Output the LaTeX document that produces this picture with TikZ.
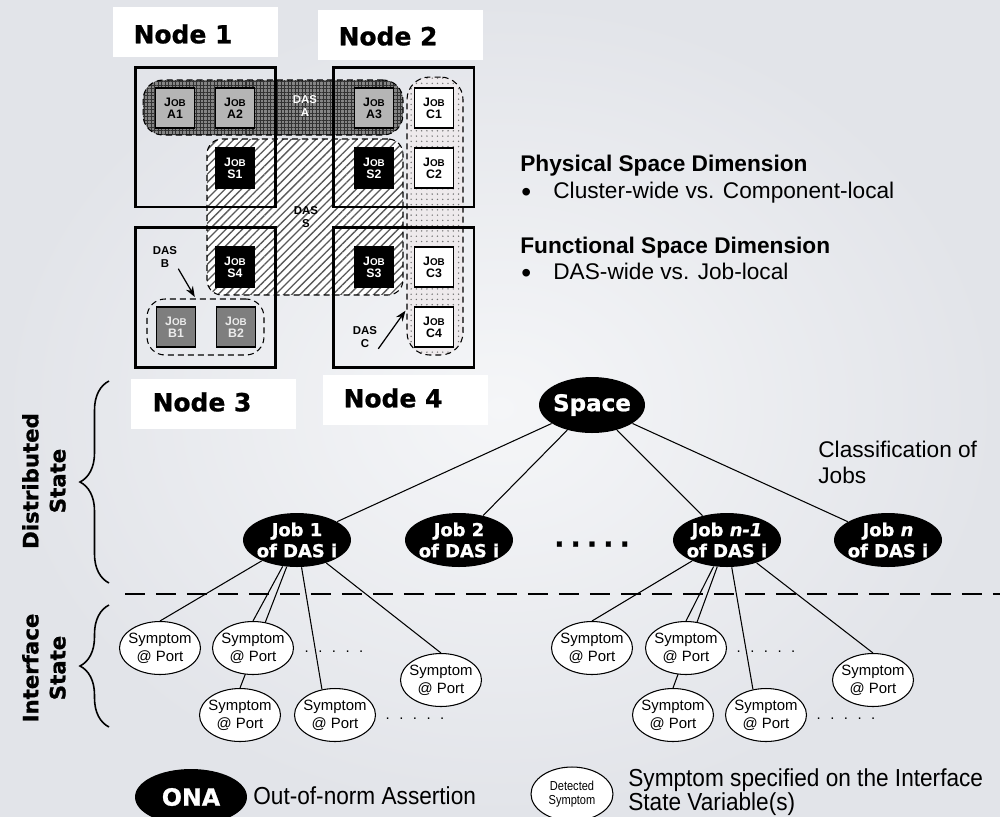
\documentclass[tikz,border=0pt]{standalone}
\usepackage{fontspec}
\setmainfont{Liberation Sans}
\newfontfamily\heavyfont{DejaVu Sans}[BoldFeatures={FakeBold=0.9}, BoldItalicFeatures={FakeBold=0.9}]
\newfontfamily\narrowfont{Liberation Sans}[FakeStretch=0.92]
\newfontfamily\narrowerfont{Liberation Sans}[FakeStretch=0.85]
\usetikzlibrary{shapes.geometric, arrows.meta, patterns.meta, decorations.pathreplacing}

\definecolor{bgouter}{HTML}{E2E4E9}
\definecolor{bginner}{HTML}{F5F6F8}
\definecolor{jobgray}{HTML}{B5B5B5}
\definecolor{jobdark}{HTML}{7E7E7E}
\definecolor{dasAfill}{HTML}{858585}
\definecolor{dasAink}{HTML}{333333}
\definecolor{dasCfill}{HTML}{EEEAEC}

\pgfdeclarelayer{back}
\pgfdeclarelayer{edges}
\pgfsetlayers{back,edges,main}

% "Job" with small capitals over the job identifier
\newcommand\jobtag[1]{J{\fontsize{5.6}{6}\selectfont OB}\\#1}
% five dots with a given gap
\newcommand\dotrow[1]{.\hspace{#1}.\hspace{#1}.\hspace{#1}.\hspace{#1}.}

\tikzset{
  labelbox/.style={fill=white, minimum width=3.3cm, minimum height=1cm, inner sep=0pt},
  nodelbl/.style={inner sep=0pt, font=\heavyfont\bfseries\fontsize{14.2}{16}\selectfont},
  nodesq/.style={draw=black, line width=1.7pt, minimum width=2.82cm, minimum height=2.8cm, inner sep=0pt},
  dasregion/.style={draw=black, line width=0.6pt, dash pattern=on 3.4pt off 2.3pt, inner sep=0pt},
  daslbl/.style={inner sep=0.5pt, align=center, font=\bfseries\fontsize{6.5}{7.4}\selectfont},
  jobbox/.style={draw=black, line width=0.6pt, minimum width=0.78cm, minimum height=0.8cm,
                 inner sep=0pt, align=center, font=\bfseries\fontsize{7}{6.8}\selectfont},
  jobA/.style={jobbox, fill=jobgray},
  jobS/.style={jobbox, fill=black, text=white},
  jobB/.style={jobbox, fill=jobdark, text=black!8},
  jobC/.style={jobbox, fill=white},
  pointer/.style={line width=0.7pt, -{Stealth[length=6pt, width=4.5pt]}, shorten >=1pt},
  blackell/.style={ellipse, fill=black, text=white, inner sep=0pt, align=center},
  jobell/.style={blackell, inner xsep=-2pt, minimum width=2.16cm, minimum height=1.08cm,
                 font=\heavyfont\bfseries\fontsize{10.2}{12}\selectfont},
  symp/.style={ellipse, draw=black, fill=white, line width=0.6pt, minimum width=1.62cm,
               minimum height=1.06cm, inner xsep=-3pt, inner ysep=0pt, align=center,
               font=\fontsize{8.5}{10.2}\selectfont},
  edge/.style={line width=0.6pt},
  sepline/.style={line width=0.6pt, dash pattern=on 0.4cm off 0.22cm},
  bracket/.style={line width=0.9pt, decorate, decoration={brace, amplitude=0.58cm}},
  sidelbl/.style={rotate=90, align=center, inner sep=0pt, font=\heavyfont\bfseries\fontsize{12.1}{15.4}\selectfont},
  bodytxt/.style={anchor=base west, inner sep=0pt, font=\fontsize{12.9}{15}\selectfont},
  headtxt/.style={bodytxt, font=\bfseries\fontsize{12.9}{15}\selectfont},
  bullettxt/.style={anchor=base west, inner sep=0pt, font=\fontsize{16}{16}\selectfont},
  smalldots/.style={inner sep=0pt, font=\fontsize{8.5}{9}\selectfont},
  legendtxt/.style={anchor=base west, inner sep=0pt, font=\narrowfont\fontsize{14}{16}\selectfont},
}

\begin{document}
\begin{tikzpicture}[x=0.02cm, y=-0.02cm]
\useasboundingbox (0,0) rectangle (1000,816);
\begin{pgfonlayer}{back}
  \shade[inner color=bginner, outer color=bgouter] (0,0) rectangle (1000,816);
\end{pgfonlayer}

% ---------- cluster with four nodes ----------
\node[labelbox] (n1box) at (195.5,32) {};
\node[nodelbl] (n1lbl) at (183,34) {Node 1};
\node[labelbox] (n2box) at (400.5,34.5) {};
\node[nodelbl] (n2lbl) at (388,36) {Node 2};
\node[labelbox] (n3box) at (213.5,403.5) {};
\node[nodelbl] (n3lbl) at (202,402) {Node 3};
\node[labelbox] (n4box) at (405.5,400) {};
\node[nodelbl] (n4lbl) at (393,398) {Node 4};

% DAS regions
\node[dasregion, minimum width=3.92cm, minimum height=3.12cm, rounded corners=0.3cm,
      preaction={fill=white}, pattern={Lines[angle=45, distance=3.3pt, line width=0.75pt]},
      pattern color=black!65] (dasS) at (305,217) {};
\node[dasregion, minimum width=5.2cm, minimum height=1.1cm, rounded corners=0.4cm,
      preaction={fill=dasAfill}, pattern={Hatch[angle=0, distance=2pt, line width=0.6pt]},
      pattern color=dasAink] (dasA) at (273,107.5) {};
\node[dasregion, minimum width=1.12cm, minimum height=5.56cm, rounded corners=0.45cm,
      preaction={fill=dasCfill}, pattern={Dots[distance=3pt, radius=0.45pt]},
      pattern color=black!55] (dasC) at (435,216) {};
\node[dasregion, minimum width=2.34cm, minimum height=1.12cm, rounded corners=0.36cm] (dasB) at (205.5,327) {};

% node frames
\node[nodesq] (sq1) at (205.5,137) {};
\node[nodesq] (sq2) at (403.5,137) {};
\node[nodesq] (sq3) at (205.5,297.5) {};
\node[nodesq] (sq4) at (403.5,297.5) {};

% jobs
\node[jobA] (jA1) at (175,108) {\jobtag{A1}};
\node[jobA] (jA2) at (235,108) {\jobtag{A2}};
\node[jobA] (jA3) at (374,108) {\jobtag{A3}};
\node[jobC] (jC1) at (434,108) {\jobtag{C1}};
\node[jobS] (jS1) at (235,168) {\jobtag{S1}};
\node[jobS] (jS2) at (374,168) {\jobtag{S2}};
\node[jobC] (jC2) at (434,168) {\jobtag{C2}};
\node[jobS] (jS4) at (235,267) {\jobtag{S4}};
\node[jobS] (jS3) at (374,267) {\jobtag{S3}};
\node[jobC] (jC3) at (434,267) {\jobtag{C3}};
\node[jobB] (jB1) at (176,327) {\jobtag{B1}};
\node[jobB] (jB2) at (236,327) {\jobtag{B2}};
\node[jobC] (jC4) at (434,327) {\jobtag{C4}};

% DAS labels
\node[daslbl, text=white] (dasAlbl) at (305,106) {DAS\\A};
\node[daslbl] (dasSlbl) at (306,217) {DAS\\S};
\node[daslbl] (dasBlbl) at (165,257) {DAS\\B};
\node[daslbl] (dasClbl) at (365,337) {DAS\\C};
\draw[pointer] (dasBlbl.south east) -- (dasB.109);
\draw[pointer] (dasClbl.south east) -- (dasC.253);

% ---------- dimensions ----------
\node[headtxt] (physhead) at (520,171) {Physical Space Dimension};
\node[bullettxt] (physbul) at (521,201) {\textbullet};
\node[bodytxt] (phystxt) at (553,198) {Cluster-wide vs. Component-local};
\node[headtxt] (funchead) at (520,253) {Functional Space Dimension};
\node[bullettxt] (funcbul) at (521,282) {\textbullet};
\node[bodytxt] (functxt) at (553,279) {DAS-wide vs. Job-local};

% ---------- classification tree ----------
\node[jobell, minimum width=2.12cm, minimum height=1.12cm,
      font=\heavyfont\bfseries\fontsize{13.1}{15}\selectfont] (space) at (592,405) {Space};
\node[jobell] (job1) at (297,540) {Job 1\\of DAS i};
\node[jobell] (job2) at (459,540) {Job 2\\of DAS i};
\node[jobell] (jobn1) at (727,540) {Job \textit{n-1}\\of DAS i};
\node[jobell] (jobn) at (888,540) {Job \textit{n}\\of DAS i};
\node[inner sep=0pt, font=\heavyfont\bfseries\fontsize{15}{15}\selectfont] (jobdots) at (592,544) {\dotrow{3.6pt}};

\node[bodytxt] (class1) at (818,457) {Classification of};
\node[bodytxt] (class2) at (818,483) {Jobs};

% symptoms of job 1
\node[symp] (s11) at (160,648) {Symptom\\@ Port};
\node[symp] (s12) at (253,648) {Symptom\\@ Port};
\node[symp] (s13) at (240,715) {Symptom\\@ Port};
\node[symp] (s14) at (335,715) {Symptom\\@ Port};
\node[symp] (s15) at (441,680) {Symptom\\@ Port};
\node[smalldots] (s1dotsA) at (334,652) {\dotrow{5.4pt}};
\node[smalldots] (s1dotsB) at (415,719) {\dotrow{5.4pt}};

% symptoms of job n-1
\node[symp] (t1) at (592,648) {Symptom\\@ Port};
\node[symp] (t2) at (686,648) {Symptom\\@ Port};
\node[symp] (t3) at (673,715) {Symptom\\@ Port};
\node[symp] (t4) at (766,715) {Symptom\\@ Port};
\node[symp] (t5) at (873,680) {Symptom\\@ Port};
\node[smalldots] (t1dotsA) at (766,652) {\dotrow{5.4pt}};
\node[smalldots] (t1dotsB) at (846,719) {\dotrow{5.4pt}};

\begin{pgfonlayer}{edges}
  \draw[edge] (space) -- (job1);
  \draw[edge] (space) -- (job2);
  \draw[edge] (space) -- (jobn1);
  \draw[edge] (space) -- (jobn);
  \draw[edge] (job1) -- (s11.north);
  \draw[edge] (job1) -- (s12.north);
  \draw[edge] (job1) -- (s13.north);
  \draw[edge] (job1) -- (s14.117);
  \draw[edge] (job1) -- (s15.north);
  \draw[edge] (jobn1) -- (t1.north);
  \draw[edge] (jobn1) -- (t2.north);
  \draw[edge] (jobn1) -- (t3.north);
  \draw[edge] (jobn1) -- (t4.117);
  \draw[edge] (jobn1) -- (t5.north);
\end{pgfonlayer}

% separator between the two states
\coordinate (sepL) at (125,594);
\coordinate (sepR) at (1000,594);
\draw[sepline] (sepL) -- (sepR);

% state braces and labels
\draw[bracket] (109,583) -- (109,381);
\draw[bracket] (109,727) -- (109,605);
\node[sidelbl] (distlbl) at (44,481) {Distributed\\State};
\node[sidelbl] (intflbl) at (44,668) {Interface\\State};

% ---------- legend ----------
\node[blackell, minimum width=2.24cm, minimum height=1.12cm,
      font=\heavyfont\bfseries\fontsize{13.5}{15}\selectfont] (ona) at (191,797) {ONA};
\node[legendtxt] (onatxt) at (253,804) {Out-of-norm Assertion};
\node[symp, minimum width=1.64cm, minimum height=1.08cm,
      font=\narrowerfont\fontsize{7.4}{8.2}\selectfont] (detected) at (572,794) {Detected\\Symptom};
\node[legendtxt] (symtxt1) at (628,786) {Symptom specified on the Interface};
\node[legendtxt] (symtxt2) at (628,810) {State Variable(s)};
\end{tikzpicture}
\end{document}
